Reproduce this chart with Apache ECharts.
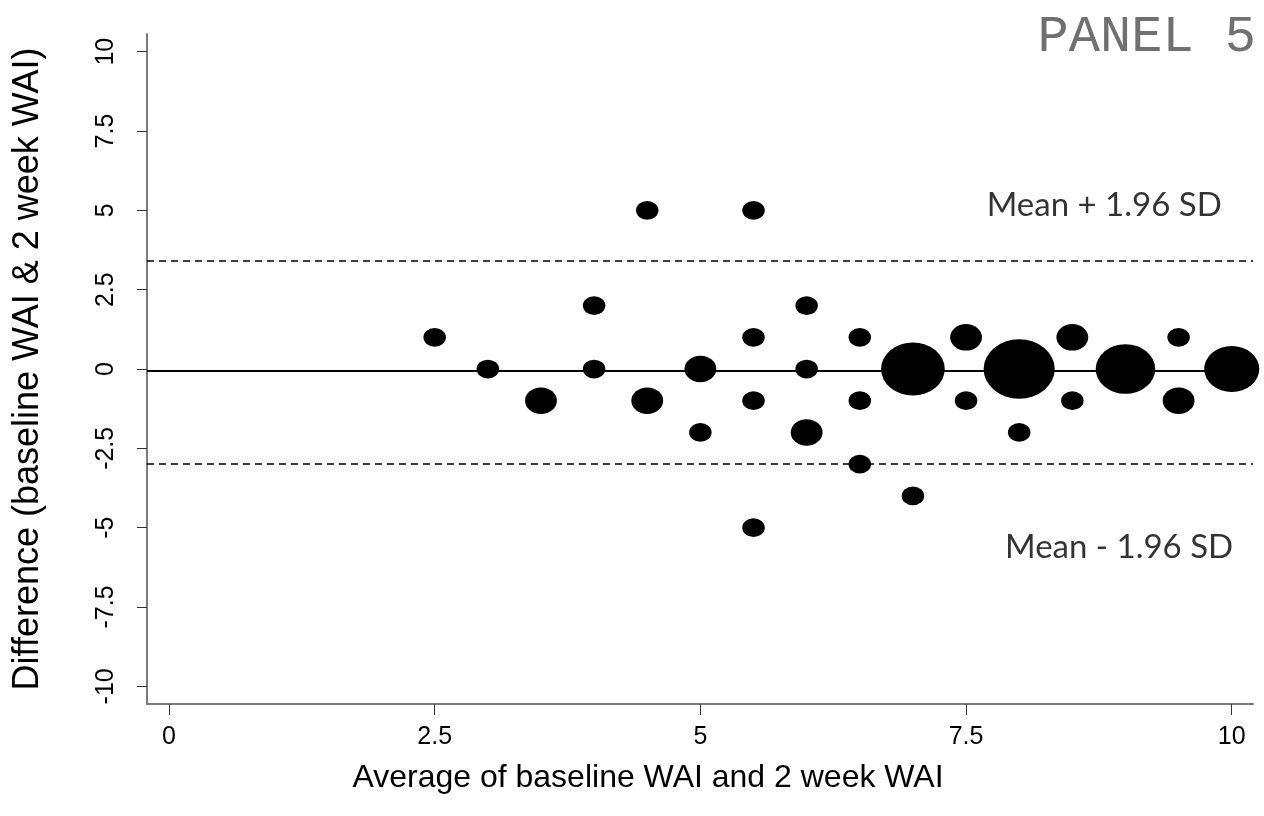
<!DOCTYPE html>
<html>
<head>
<meta charset="utf-8">
<script src="https://cdn.jsdelivr.net/npm/echarts@6/dist/echarts.min.js"></script>
<style>html,body{margin:0;padding:0;background:#fff}#c{width:1264px;height:816px}</style>
</head>
<body>
<div id="c"></div>
<script>
// Bubble data: average (x), difference (y), number of overlapping observations
var avgValues   = [2.5, 5.5, 6.5, 7.5, 8.5, 9.5,  3, 4, 5, 6, 7, 8, 9, 10,  3.5, 4.5, 5.5, 6.5, 7.5, 8.5, 9.5,  5, 6, 8,  4.5, 5.5,  4, 6,  6.5, 7, 5.5];
var diffValues  = [1, 1, 1, 1, 1, 1,  0, 0, 0, 0, 0, 0, 0, 0,  -1, -1, -1, -1, -1, -1, -1,  -2, -2, -2,  5, 5,  2, 2,  -3, -4, -5];
var countValues = [1, 1, 1, 2, 2, 1,  1, 1, 2, 1, 8, 10, 7, 6,  2, 2, 1, 1, 1, 1, 2,  1, 2, 1,  1, 1,  1, 1,  1, 1, 1];

// Agreement lines
var meanDiff = -0.05;
var upperLimit = 3.42;
var lowerLimit = -2.99;

// Tick labels
var xTicks = [0, 2.5, 5, 7.5, 10];
var yTicks = [-10, -7.5, -5, -2.5, 0, 2.5, 5, 7.5, 10];

// Annotations
var annoText = ['Mean + 1.96 SD', 'Mean - 1.96 SD'];
var annoX = [8.80, 8.94];
var annoY = [5.15, -5.62];

var points = avgValues.map(function (x, i) { return [x, diffValues[i], countValues[i]]; });
var annoData = annoText.map(function (t, i) { return { value: [annoX[i], annoY[i]], name: t }; });

var chart = echarts.init(document.getElementById('c'), null, { renderer: 'canvas' });
var axisFont = 'Liberation Sans';
chart.setOption({
  animation: false,
  backgroundColor: '#ffffff',
  title: {
    text: 'PANEL 5', right: 3, top: 6,
    textStyle: { fontFamily: 'Liberation Mono', fontSize: 52, fontWeight: 'normal', color: '#707070' }
  },
  grid: { left: 147, right: 11, top: 34, bottom: 112, containLabel: false, outerBoundsMode: 'none' },
  xAxis: {
    type: 'value', min: -0.207, max: 10.2,
    name: 'Average of baseline WAI and 2 week WAI',
    nameLocation: 'middle', nameGap: 58,
    nameTextStyle: { fontFamily: axisFont, fontSize: 32, color: '#000', padding: [0, 104, 0, 0] },
    axisLine: { show: true, onZero: false, lineStyle: { color: '#7a7a7a', width: 2 } },
    axisTick: { show: true, customValues: xTicks, length: 11, lineStyle: { color: '#333', width: 1 } },
    axisLabel: { show: true, customValues: xTicks, margin: 21, fontFamily: axisFont, fontSize: 25, color: '#000',
      formatter: function (v) { return String(v); } },
    splitLine: { show: false }
  },
  yAxis: {
    type: 'value', min: -10.557, max: 10.557,
    name: 'Difference (baseline WAI & 2 week WAI)',
    nameLocation: 'middle', nameGap: 101, nameRotate: 90,
    nameTextStyle: { fontFamily: axisFont, fontSize: 36, color: '#000' },
    axisLine: { show: true, onZero: false, lineStyle: { color: '#7a7a7a', width: 2 } },
    axisTick: { show: true, customValues: yTicks, length: 10, lineStyle: { color: '#333', width: 1 } },
    axisLabel: { show: true, customValues: yTicks, rotate: 90, margin: 28, fontFamily: axisFont, fontSize: 25, color: '#000',
      formatter: function (v) { return String(v); } },
    splitLine: { show: false }
  },
  series: [
    {
      type: 'line', data: [], z: 1, silent: true,
      markLine: {
        silent: true, symbol: ['none', 'none'], label: { show: false },
        data: [
          { yAxis: upperLimit, lineStyle: { type: [7, 5], color: '#000', width: 1.5 } },
          { yAxis: meanDiff, lineStyle: { type: 'solid', color: '#000', width: 2 } },
          { yAxis: lowerLimit, lineStyle: { type: [7, 5], color: '#000', width: 1.5 } }
        ]
      }
    },
    {
      type: 'scatter', z: 3, data: points,
      symbol: 'circle',
      symbolSize: function (v) { var w = 22.5 * Math.sqrt(v[2]); return [w, w / 1.2]; },
      itemStyle: { color: '#000', opacity: 1 }
    },
    {
      type: 'scatter', z: 4, data: annoData, symbolSize: 0, silent: true,
      label: { show: true, position: 'inside', formatter: '{b}', fontFamily: 'Lato', fontSize: 33, color: '#000' }
    }
  ]
});
</script>
</body>
</html>
